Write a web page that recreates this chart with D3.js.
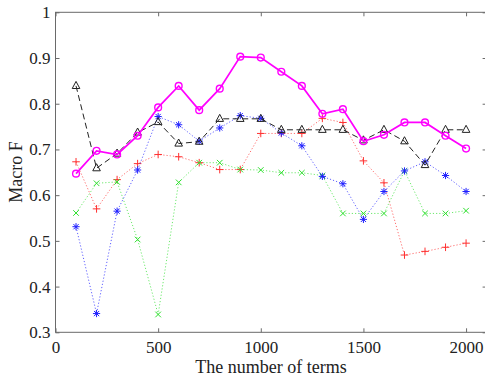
<!DOCTYPE html>
<html>
<head>
	<meta charset="utf-8">
	<title>Macro F vs number of terms</title>
	<script src="https://d3js.org/d3.v7.min.js"></script>
	<style type="text/css">
	html, body{
		margin:0;
		background:#fff;
	}
	svg text{
		font-family: "Liberation Serif", "DejaVu Serif", serif;
		fill:#222;
	}
	</style>
</head>
<body>
<div id="chart"></div>
<script type="text/javascript">
// number of terms
var terms = [100, 200, 300, 400, 500, 600, 700, 800, 900, 1000, 1100, 1200, 1300, 1400, 1500, 1600, 1700, 1800, 1900, 2000];

var redPlus   = [0.673, 0.570, 0.634, 0.669, 0.689, 0.684, 0.671, 0.656, 0.656, 0.735, 0.735, 0.735, 0.768, 0.759, 0.675, 0.627, 0.469, 0.477, 0.486, 0.495];
var greenX    = [0.561, 0.626, 0.629, 0.503, 0.339, 0.628, 0.671, 0.671, 0.656, 0.655, 0.649, 0.649, 0.643, 0.560, 0.560, 0.560, 0.653, 0.560, 0.560, 0.566];
var blueStar  = [0.531, 0.341, 0.565, 0.655, 0.772, 0.754, 0.718, 0.747, 0.774, 0.768, 0.736, 0.708, 0.641, 0.625, 0.547, 0.608, 0.653, 0.673, 0.643, 0.608];
var blackTri  = [0.839, 0.659, 0.691, 0.737, 0.760, 0.713, 0.717, 0.767, 0.767, 0.767, 0.743, 0.743, 0.743, 0.743, 0.720, 0.743, 0.718, 0.666, 0.743, 0.743];
var magentaO  = [0.647, 0.697, 0.689, 0.730, 0.792, 0.839, 0.786, 0.833, 0.903, 0.901, 0.870, 0.839, 0.778, 0.788, 0.718, 0.732, 0.759, 0.759, 0.730, 0.702];

var xTicks = [0, 500, 1000, 1500, 2000];
var yTicks = [0.3, 0.4, 0.5, 0.6, 0.7, 0.8, 0.9, 1];

var W = 485, H = 380;
// plot box (note: "top" is taken by window.top, so use other names)
var boxL = 55.5, boxT = 12.3, boxR = 486.6, boxB = 332.3;

var x = d3.scaleLinear().domain([0, 2100]).range([boxL, boxR]);
var y = d3.scaleLinear().domain([0.3, 1]).range([boxB, boxT]);

var svg = d3.select("#chart").append("svg")
	.attr("width", W).attr("height", H);

var axisCol = "#6a6a6a";

// box
svg.append("rect")
	.attr("x", boxL).attr("y", boxT)
	.attr("width", boxR - boxL).attr("height", boxB - boxT)
	.attr("fill", "none").attr("stroke", axisCol).attr("stroke-width", 1);

// ticks inside, on all 4 sides
var tl = 4;
var axB = d3.axisBottom(x).tickValues(xTicks).tickSizeInner(-tl).tickSizeOuter(0).tickPadding(9).tickFormat(d3.format("d"));
var axT = d3.axisTop(x).tickValues(xTicks).tickSizeInner(-tl).tickSizeOuter(0).tickFormat("");
var axL = d3.axisLeft(y).tickValues(yTicks).tickSizeInner(-tl).tickSizeOuter(0).tickPadding(5).tickFormat(function(d){ return d == 1 ? "1" : d3.format(".1f")(d); });
var axR = d3.axisRight(y).tickValues(yTicks).tickSizeInner(-tl).tickSizeOuter(0).tickFormat("");

function styleAxis(g){
	g.select(".domain").remove();
	g.selectAll(".tick line").attr("stroke", axisCol);
	g.selectAll(".tick text")
		.attr("font-family", "Liberation Serif, serif")
		.attr("font-size", 17)
		.attr("fill", "#222");
}
svg.append("g").attr("transform", "translate(0," + boxB + ")").call(axB).call(styleAxis);
svg.append("g").attr("transform", "translate(0," + boxT + ")").call(axT).call(styleAxis);
svg.append("g").attr("transform", "translate(" + boxL + ",0)").call(axL).call(styleAxis);
svg.append("g").attr("transform", "translate(" + boxR + ",0)").call(axR).call(styleAxis);

// labels
svg.append("text")
	.attr("x", 271).attr("y", 373)
	.attr("text-anchor", "middle")
	.attr("font-size", 18)
	.text("The number of terms");

svg.append("text")
	.attr("transform", "translate(22,172) rotate(-90)")
	.attr("text-anchor", "middle")
	.attr("font-size", 18)
	.text("Macro F");

// marker shapes (small, matlab-ish)
function drawMarker(g, type, color){
	if (type == "plus"){
		g.append("path").attr("d", "M-3.8,0H3.8M0,-3.8V3.8").attr("stroke", color).attr("stroke-width", 1).attr("fill", "none");
	} else if (type == "x"){
		g.append("path").attr("d", "M-2.8,-2.8L2.8,2.8M-2.8,2.8L2.8,-2.8").attr("stroke", color).attr("stroke-width", 1).attr("fill", "none");
	} else if (type == "star"){
		g.append("path").attr("d", "M-3.6,0H3.6M0,-3.6V3.6M-2.6,-2.6L2.6,2.6M-2.6,2.6L2.6,-2.6").attr("stroke", color).attr("stroke-width", 1).attr("fill", "none");
	} else if (type == "tri"){
		g.append("path").attr("d", "M0,-4.5L3.8,2.6H-3.8Z").attr("stroke", color).attr("stroke-width", 1).attr("fill", "none");
	} else if (type == "circle"){
		g.append("circle").attr("r", 3.4).attr("stroke", color).attr("stroke-width", 1.4).attr("fill", "none");
	}
}

var series = [
	{ vals: redPlus,  color: "#ff3030", dash: "1.2,2", width: 1,   marker: "plus",   op: 0.7 },
	{ vals: greenX,   color: "#30e030", dash: "1.2,2", width: 1,   marker: "x",      op: 0.7 },
	{ vals: blueStar, color: "#2020ff", dash: "1.2,2", width: 1,   marker: "star",   op: 0.7 },
	{ vals: blackTri, color: "#222222", dash: "6,3.5", width: 1,   marker: "tri",    op: 1 },
	{ vals: magentaO, color: "#ff00ff", dash: null,    width: 1.7, marker: "circle", op: 1 }
];

var line = d3.line()
	.x(function(d){ return x(d[0]); })
	.y(function(d){ return y(d[1]); });

series.forEach(function(s){
	var pts = terms.map(function(t, i){ return [t, s.vals[i]]; });
	var p = svg.append("path")
		.datum(pts)
		.attr("d", line)
		.attr("fill", "none")
		.attr("stroke", s.color)
		.attr("stroke-width", s.width)
		.attr("stroke-opacity", s.op);
	if (s.dash) p.attr("stroke-dasharray", s.dash);

	pts.forEach(function(d){
		var g = svg.append("g").attr("transform", "translate(" + x(d[0]) + "," + y(d[1]) + ")");
		drawMarker(g, s.marker, s.color);
	});
});
</script>
</body>
</html>
